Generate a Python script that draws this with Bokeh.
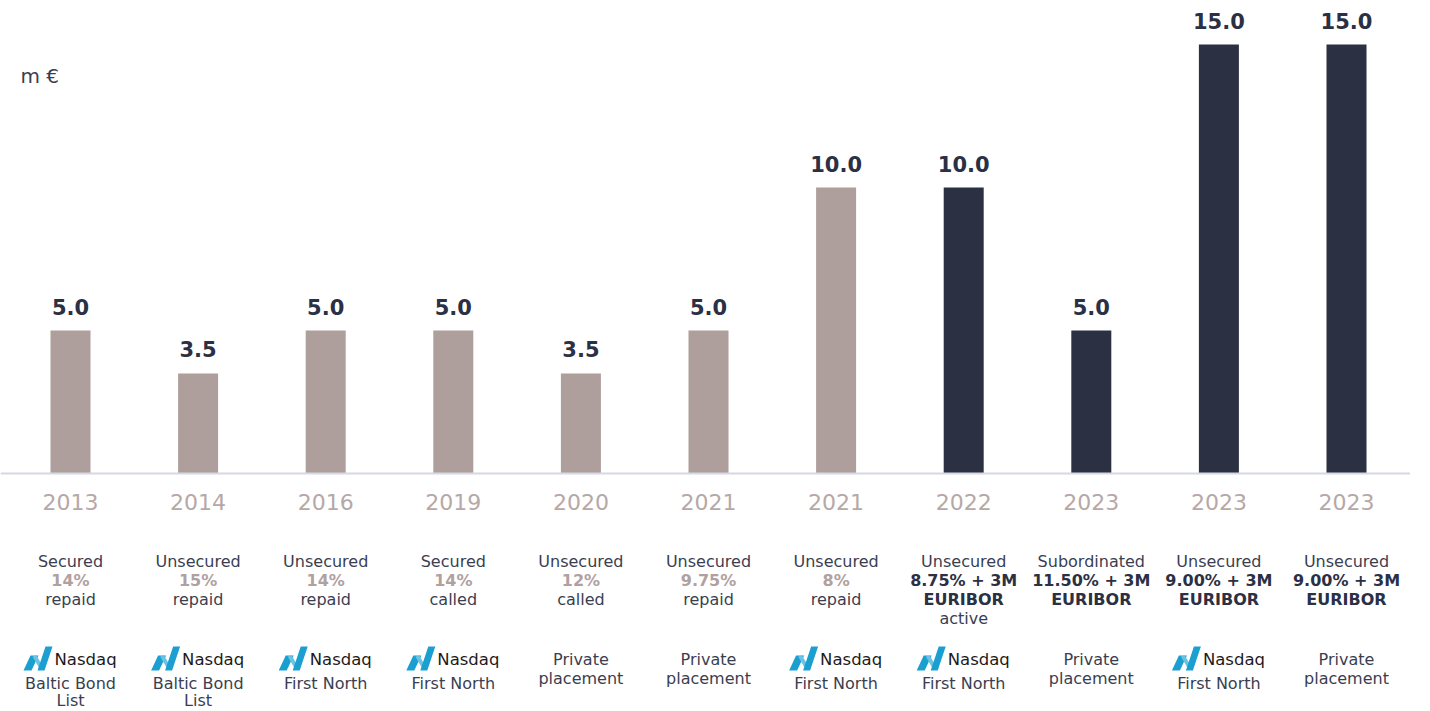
from bokeh.plotting import figure
from bokeh.models import ColumnDataSource, Span, Label
from bokeh.core.properties import value
from bokeh.embed import file_html
from bokeh.resources import INLINE

# ---------------- data ----------------
years = ["2013", "2014", "2016", "2019", "2020", "2021", "2021", "2022", "2023", "2023", "2023"]
amounts = [5.0, 3.5, 5.0, 5.0, 3.5, 5.0, 10.0, 10.0, 5.0, 15.0, 15.0]
outstanding = [False, False, False, False, False, False, False, True, True, True, True]
bond_type = ["Secured", "Unsecured", "Unsecured", "Secured", "Unsecured", "Unsecured",
             "Unsecured", "Unsecured", "Subordinated", "Unsecured", "Unsecured"]
coupon = ["14%", "15%", "14%", "14%", "12%", "9.75%", "8%",
          "8.75% + 3M", "11.50% + 3M", "9.00% + 3M", "9.00% + 3M"]
base_rate = ["", "", "", "", "", "", "", "EURIBOR", "EURIBOR", "EURIBOR", "EURIBOR"]
status = ["repaid", "repaid", "repaid", "called", "called", "repaid", "repaid",
          "active", "", "", ""]
listed = [True, True, True, True, False, False, True, True, False, True, False]
venue_line1 = ["Baltic Bond", "Baltic Bond", "First North", "First North", "Private", "Private",
               "First North", "First North", "Private", "First North", "Private"]
venue_line2 = ["List", "List", "", "", "placement", "placement", "", "", "placement", "", "placement"]
unit_label = "m €"

# ---------------- styling / layout ----------------
FONT = "DejaVu Sans"
LIGHT_BAR = "#ae9e9c"
DARK_BAR = "#2b3043"
VALUE_COLOR = "#2b3044"
TEXT_COLOR = "#3a3e50"
YEAR_COLOR = "#b6a8a6"
RATE_LIGHT = "#b0a19f"
LOGO_BLUE = "#1a9fd0"
LOGO_LIGHT = "#6cc2e2"

W, H = 1410, 710
PX_X = 127.6   # pixels per category
PX_Y = 28.6    # pixels per m€
BASE_PX = 473  # baseline from top of figure
x0 = -70 / PX_X
x1 = x0 + W / PX_X
y1 = BASE_PX / PX_Y
y0 = -(H - BASE_PX) / PX_Y


def below(px):
    """data y for a screen distance (px) below the baseline"""
    return -px / PX_Y


p = figure(width=W, height=H, x_range=(x0, x1), y_range=(y0, y1),
           output_backend="svg", toolbar_location=None,
           x_axis_location=None, y_axis_location=None,
           min_border=0, min_border_left=0, min_border_right=0,
           min_border_top=0, min_border_bottom=0)
p.grid.visible = False
p.outline_line_color = None
p.background_fill_color = "white"
p.border_fill_color = "white"

idx = list(range(len(years)))
bar_colors = [DARK_BAR if o else LIGHT_BAR for o in outstanding]
src = ColumnDataSource(dict(x=idx, top=amounts, color=bar_colors,
                            lab=[f"{a:.1f}" for a in amounts],
                            ly=[a + 24 / PX_Y for a in amounts],
                            year=years))

p.vbar(x="x", top="top", bottom=0, width=40 / PX_X, fill_color="color",
       line_color=None, source=src)

p.add_layout(Span(location=0, dimension="width", line_color="#d6d8e4", line_width=2))

p.text(x="x", y="ly", text="lab", source=src, text_align="center", text_baseline="middle",
       text_font=value(FONT), text_font_size="21px", text_font_style="bold",
       text_color=VALUE_COLOR)

p.text(x="x", y=below(28), text="year", source=src, text_align="center", text_baseline="middle",
       text_font=value(FONT), text_font_size="22px", text_color=YEAR_COLOR)

# descriptive lines
FS = "16px"
LINE0 = 87.5
LS = 19.3
p.text(x=idx, y=[below(LINE0)] * len(idx), text=bond_type, text_align="center",
       text_baseline="middle", text_font=value(FONT), text_font_size=FS,
       text_color=TEXT_COLOR)

rate_colors = [VALUE_COLOR if o else RATE_LIGHT for o in outstanding]
p.text(x=idx, y=[below(LINE0 + LS)] * len(idx), text=coupon, text_align="center",
       text_baseline="middle", text_font=value(FONT), text_font_size=FS,
       text_font_style="bold", text_color=rate_colors)

br_x = [i for i in idx if base_rate[i]]
p.text(x=br_x, y=[below(LINE0 + 2 * LS)] * len(br_x), text=[base_rate[i] for i in br_x],
       text_align="center", text_baseline="middle", text_font=value(FONT),
       text_font_size=FS, text_font_style="bold", text_color=VALUE_COLOR)

st_x = [i for i in idx if status[i]]
st_y = [below(LINE0 + (3 if base_rate[i] else 2) * LS) for i in st_x]
p.text(x=st_x, y=st_y, text=[status[i] for i in st_x], text_align="center",
       text_baseline="middle", text_font=value(FONT), text_font_size=FS,
       text_color=TEXT_COLOR)

# venue rows
LOGO_PX = 186
v1_y = [below(210 if listed[i] else 186) for i in idx]
v2_y = [below(227 if listed[i] else 205) for i in idx]
p.text(x=idx, y=v1_y, text=venue_line1, text_align="center", text_baseline="middle",
       text_font=value(FONT), text_font_size=FS, text_color=TEXT_COLOR)
v2_x = [i for i in idx if venue_line2[i]]
p.text(x=v2_x, y=[v2_y[i] for i in v2_x], text=[venue_line2[i] for i in v2_x],
       text_align="center", text_baseline="middle", text_font=value(FONT),
       text_font_size=FS, text_color=TEXT_COLOR)

# Nasdaq logos
lx = [i for i in idx if listed[i]]
icon_left = -47    # px from column centre
icon_bottom = 197  # px below baseline
shapes = [
    ([(0, 0), (8, 0), (15, 15), (7, 15)], LOGO_BLUE),
    ([(9, 14), (13, 15), (20, 3), (16, 2)], LOGO_LIGHT),
    ([(14, 0), (21, 0), (29, 24), (22, 24)], LOGO_BLUE),
]
for pts, col in shapes:
    xs = [[i + (icon_left + a) / PX_X for a, b in pts] for i in lx]
    ys = [[below(icon_bottom - b) for a, b in pts] for i in lx]
    p.patches(xs, ys, fill_color=col, line_color=None)

p.text(x=lx, y=[below(LOGO_PX)] * len(lx), x_offset=-16, text=["Nasdaq"] * len(lx),
       text_align="left", text_baseline="middle", text_font=value(FONT),
       text_font_size="16.5px", text_color="#1e1a1b")

p.add_layout(Label(x=20, y=H - 75, x_units="screen", y_units="screen", text=unit_label,
                   text_font=FONT, text_font_size="20px", text_color=TEXT_COLOR,
                   text_baseline="middle"))

open("out.html", "w").write(file_html(p, INLINE))
